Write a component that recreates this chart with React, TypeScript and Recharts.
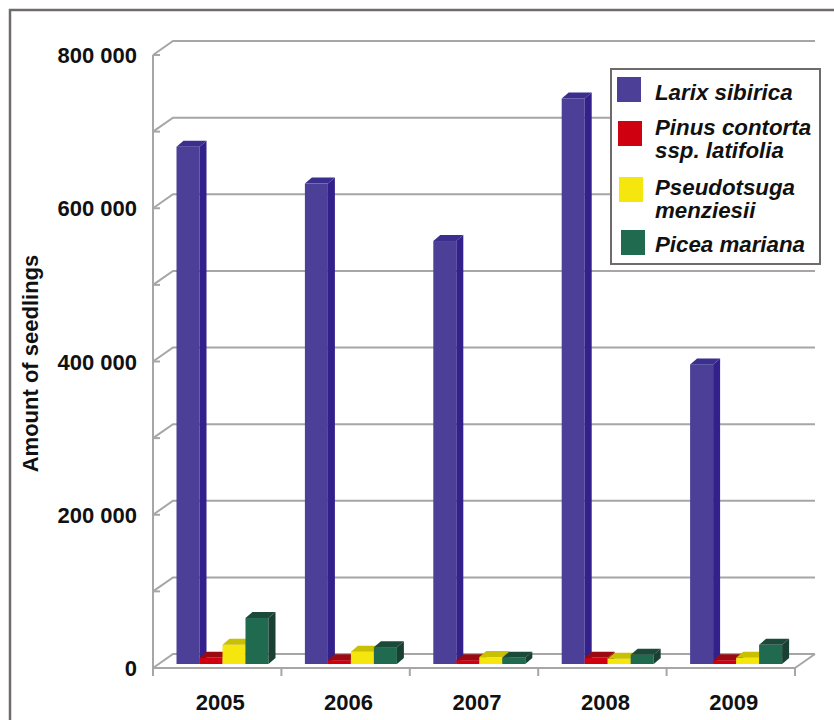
import { BarChart, Bar, XAxis, YAxis, CartesianGrid, Legend } from "recharts";

const years = ["2005", "2006", "2007", "2008", "2009"];
const larix = [675000, 627000, 552000, 738000, 391000];
const pinus = [8000, 5000, 5000, 8000, 5000];
const pseudotsuga = [25000, 16000, 9000, 7000, 8000];
const picea = [60000, 22000, 8000, 12000, 25000];
const yTicks = [0, 100000, 200000, 300000, 400000, 500000, 600000, 700000, 800000];

const seriesNames = [
  "Larix sibirica",
  "Pinus contorta\nssp. latifolia",
  "Pseudotsuga\nmenziesii",
  "Picea mariana",
];

const data = years.map((year, i) => ({
  year,
  larix: larix[i],
  pinus: pinus[i],
  pseudotsuga: pseudotsuga[i],
  picea: picea[i],
}));

const WIDTH = 834;
const HEIGHT = 720;
const LEFT = 153;
const RIGHT = 795;
const BOTTOM = 668;
const STEP = (RIGHT - LEFT) / years.length;
const AXIS = "#a8a5a5";
const FONT = "'Liberation Sans', Arial, sans-serif";

// 3d look: the bar stands a bit into the floor, with a side and a top face
function Bar3D({ x, y, width, height, fill, side, top }: any) {
  const bx = x + 6;
  const by = y - 4;
  const dx = 7;
  const dy = 6;
  return (
    <g>
      <rect x={bx} y={by} width={width} height={height} fill={fill} />
      <polygon
        points={`${bx},${by} ${bx + dx},${by - dy} ${bx + width + dx},${by - dy} ${bx + width},${by}`}
        fill={top}
      />
      <polygon
        points={`${bx + width},${by} ${bx + width + dx},${by - dy} ${bx + width + dx},${by + height - dy} ${bx + width},${by + height}`}
        fill={side}
      />
    </g>
  );
}

function WallLine({ x1, x2, y1 }: any) {
  return (
    <g fill="none" stroke={AXIS} strokeWidth={2}>
      <polyline points={`${x1},${y1} ${x1 + 20},${y1 - 14} ${x2 + 20},${y1 - 14}`} />
      {y1 === BOTTOM && <line x1={x2} y1={y1} x2={x2 + 20} y2={y1 - 14} />}
    </g>
  );
}

function YTick({ x, y, payload }: any) {
  const label =
    payload.value === 0
      ? "0"
      : payload.value % 200000 === 0
        ? `${payload.value / 1000} 000`
        : "";
  return (
    <g>
      <line x1={x} x2={x + 7} y1={y} y2={y} stroke={AXIS} strokeWidth={2} />
      <text
        x={x - 16}
        y={y + 8}
        textAnchor="end"
        fontFamily={FONT}
        fontWeight="bold"
        fontSize={22}
        fill="#111"
      >
        {label}
      </text>
    </g>
  );
}

function XTick({ x, y, payload, index }: any) {
  return (
    <g>
      <line x1={x - STEP / 2} x2={x - STEP / 2} y1={y - 8} y2={y} stroke={AXIS} strokeWidth={2} />
      {index === years.length - 1 && (
        <line x1={x + STEP / 2} x2={x + STEP / 2} y1={y - 8} y2={y} stroke={AXIS} strokeWidth={2} />
      )}
      <text
        x={x + 3}
        y={y + 34}
        textAnchor="middle"
        fontFamily={FONT}
        fontWeight="bold"
        fontSize={22}
        fill="#111"
      >
        {payload.value}
      </text>
    </g>
  );
}

function LegendBox({ payload }: any) {
  const rowTops = [11, 46, 106, 163];
  const swatchTops = [7, 51, 107, 160];
  const swatchLefts = [5, 6, 7, 9];
  return (
    <div
      style={{
        position: "relative",
        width: 211,
        height: 197,
        boxSizing: "border-box",
        border: "2px solid #6f6a6c",
        background: "#fff",
        fontFamily: FONT,
        fontWeight: "bold",
        fontStyle: "italic",
        fontSize: 22.3,
        lineHeight: "23px",
        color: "#111",
      }}
    >
      {(payload || []).map((entry: any, i: number) => (
        <div key={entry.value}>
          <div
            style={{
              position: "absolute",
              left: swatchLefts[i],
              top: swatchTops[i],
              width: 24,
              height: 25,
              background: entry.color,
            }}
          />
          <div
            style={{
              position: "absolute",
              left: 43,
              top: rowTops[i],
              whiteSpace: "pre",
            }}
          >
            {entry.value}
          </div>
        </div>
      ))}
    </div>
  );
}

export default function App() {
  return (
    <div style={{ position: "absolute", left: 0, top: 0, width: WIDTH, height: HEIGHT, background: "#fff" }}>
      <BarChart
        width={WIDTH}
        height={HEIGHT}
        data={data}
        margin={{ top: 55, right: WIDTH - RIGHT, bottom: HEIGHT - BOTTOM - 52, left: 0 }}
        barCategoryGap={17.5}
        barGap={0}
      >
        <rect x={10} y={10} width={840} height={730} fill="none" stroke="#6f6a6c" strokeWidth={2.5} />
        <CartesianGrid vertical={false} horizontal={(p: any) => <WallLine key={p.y1} {...p} />} syncWithTicks />
        <XAxis
          dataKey="year"
          height={52}
          stroke={AXIS}
          strokeWidth={2}
          tickLine={false}
          tick={<XTick />}
          interval={0}
        />
        <YAxis
          width={LEFT}
          domain={[0, 800000]}
          ticks={yTicks}
          interval={0}
          stroke={AXIS}
          strokeWidth={2}
          tickLine={false}
          tickSize={0}
          tickMargin={0}
          tick={<YTick />}
          label={{
            value: "Amount of seedlings",
            angle: -90,
            position: "insideLeft",
            offset: 0,
            dx: 30,
            dy: 2,
            style: { fontFamily: FONT, fontWeight: "bold", fontSize: 22, fill: "#111", textAnchor: "middle" },
          }}
        />
        <Legend
          verticalAlign="middle"
          align="center"
          itemSorter={null}
          wrapperStyle={{ left: 610, top: 68, width: 211 }}
          content={<LegendBox />}
        />
        <Bar dataKey="larix" name={seriesNames[0]} fill="#4b3f98" isAnimationActive={false} shape={<Bar3D side="#33208a" top="#3a2e8f" />} />
        <Bar dataKey="pinus" name={seriesNames[1]} fill="#cf0010" isAnimationActive={false} shape={<Bar3D side="#8f0a10" top="#9b0a10" />} />
        <Bar dataKey="pseudotsuga" name={seriesNames[2]} fill="#f5e60e" isAnimationActive={false} shape={<Bar3D side="#aca400" top="#c8c000" />} />
        <Bar dataKey="picea" name={seriesNames[3]} fill="#206a50" isAnimationActive={false} shape={<Bar3D side="#1a3f33" top="#1b4a3a" />} />
      </BarChart>
    </div>
  );
}
